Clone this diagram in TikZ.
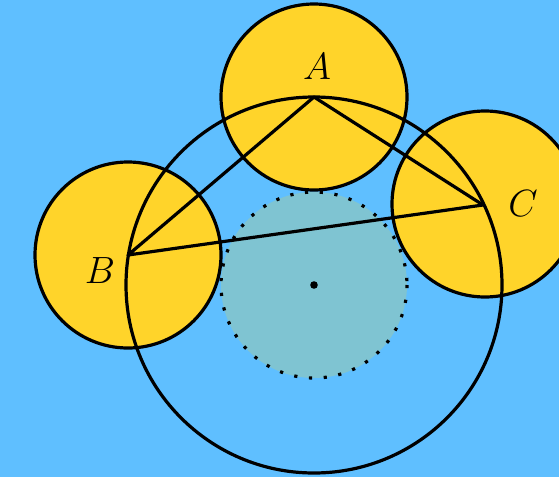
\RequirePackage{fix-cm}
\documentclass[tikz,border=0pt]{standalone}
\definecolor{bgblue}{RGB}{95,191,255}
\definecolor{sunyellow}{RGB}{255,212,42}
\definecolor{tealfill}{RGB}{127,196,210}
\begin{document}
\begin{tikzpicture}[x=1pt,y=-1pt,
  thickline/.style={line width=3.2pt},
  yellowdisk/.style={circle,draw=black,fill=sunyellow,line width=3.2pt,minimum size=186pt,inner sep=0pt},
  lbl/.style={font=\fontsize{38}{42}\selectfont}]
\fill[bgblue] (0,0) rectangle (559,477);
\useasboundingbox (0,0) rectangle (559,477);
\coordinate (O) at (314,285);
\coordinate (A) at (314,97);
\coordinate (B) at (128,255);
\coordinate (C) at (483,205);
\fill[tealfill] (O) circle (93);
\draw[line width=3.2pt,dash pattern=on 3.2pt off 11.6pt] (O) circle (93);
\node[yellowdisk] (cA) at (A) {};
\node[yellowdisk] (cB) at (B) {};
\node[yellowdisk] (cC) at (485,204) {};
\draw[thickline] (O) circle (188);
\draw[thickline,line join=round] (A) -- (B) -- (C) -- cycle;
\fill (O) circle (3.8);
\node[lbl] (lA) at (317,67) {$A$};
\node[lbl] (lB) at (100,271) {$B$};
\node[lbl] (lC) at (523,204) {$C$};
\end{tikzpicture}
\end{document}
